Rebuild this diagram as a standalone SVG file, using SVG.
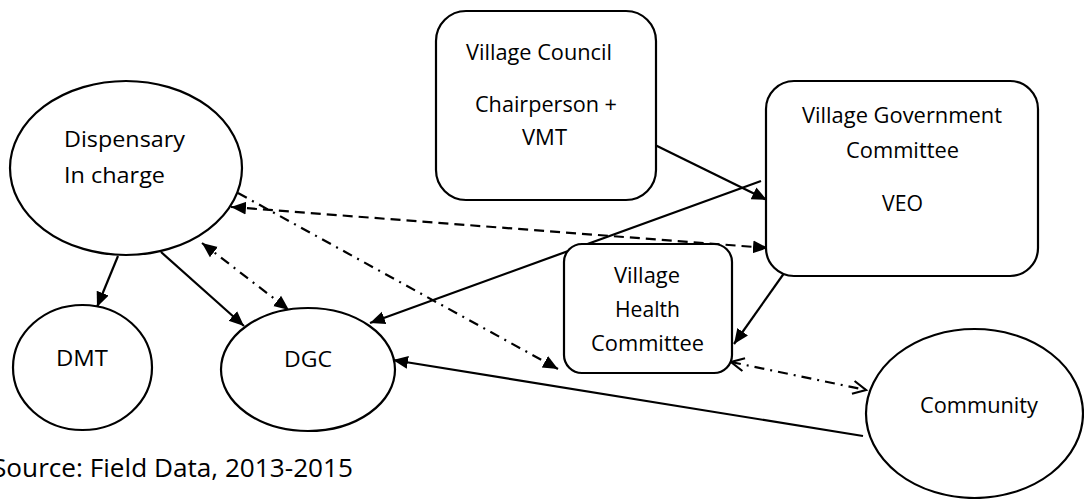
<svg xmlns="http://www.w3.org/2000/svg" width="1084" height="499" viewBox="0 0 1084 499">
<style>
.shape{fill:#fff;stroke:#000;stroke-width:2.2}
.t{font-family:"Open Sans","Liberation Sans",sans-serif;font-size:21px;fill:#000}
.src{font-family:"Open Sans","Liberation Sans",sans-serif;font-size:25px;fill:#000}
.c{fill:none;stroke:#000;stroke-width:2.2}
.dash{stroke-dasharray:10 6}
.dd{stroke-dasharray:10 6 2 6}
</style>
<defs>
<marker id="af" markerUnits="userSpaceOnUse" markerWidth="18" markerHeight="16" refX="15" refY="6.5" orient="auto-start-reverse" viewBox="0 0 18 13">
<path d="M0,0 L15,6.5 L0,13 z" fill="#000"/>
</marker>
<marker id="ao" markerUnits="userSpaceOnUse" markerWidth="18" markerHeight="16" refX="14" refY="7" orient="auto-start-reverse" viewBox="0 0 18 14">
<path d="M1,0.5 L14,7 L1,13.5" fill="none" stroke="#000" stroke-width="2.2"/>
</marker>
</defs>
<rect width="1084" height="499" fill="#fff"/>
<g id="connectors">
<line class="c" x1="118" y1="256" x2="97" y2="307" marker-end="url(#af)"/>
<line class="c" x1="161" y1="252" x2="244" y2="326" marker-end="url(#af)"/>
<line class="c dd" x1="202" y1="243" x2="289" y2="310" marker-start="url(#af)" marker-end="url(#af)"/>
<line class="c dash" x1="231" y1="207" x2="768" y2="248" marker-start="url(#af)" marker-end="url(#af)"/>
<line class="c dd" x1="238" y1="193" x2="558" y2="369" marker-end="url(#af)"/>
<line class="c" x1="653" y1="144" x2="767" y2="200" marker-end="url(#af)"/>
<line class="c" x1="761" y1="181" x2="370" y2="323" marker-end="url(#af)"/>
<line class="c" x1="792" y1="262" x2="734" y2="344" marker-end="url(#af)"/>
<line class="c dd" x1="731" y1="362" x2="866" y2="390" marker-start="url(#ao)" marker-end="url(#ao)"/>
<line class="c" x1="863" y1="436" x2="393" y2="360" marker-end="url(#af)"/>
</g>
<g id="dispensary">
<ellipse class="shape" cx="126" cy="168" rx="116" ry="87"/>
<text class="t" x="64" y="147" textLength="121" lengthAdjust="spacingAndGlyphs">Dispensary</text>
<text class="t" x="64" y="183" textLength="101" lengthAdjust="spacingAndGlyphs">In charge</text>
</g>
<g id="dmt">
<ellipse class="shape" cx="82.5" cy="367.5" rx="69.5" ry="62.5"/>
<text class="t" x="56" y="366" textLength="52" lengthAdjust="spacingAndGlyphs">DMT</text>
</g>
<g id="dgc">
<ellipse class="shape" cx="308" cy="369.5" rx="87" ry="61.5"/>
<text class="t" x="284" y="367" textLength="48" lengthAdjust="spacingAndGlyphs">DGC</text>
</g>
<g id="village-council">
<rect class="shape" x="436" y="11" width="220" height="189" rx="30"/>
<text class="t" x="466" y="60" textLength="146" lengthAdjust="spacingAndGlyphs">Village Council</text>
<text class="t" x="475" y="112" textLength="142" lengthAdjust="spacingAndGlyphs">Chairperson +</text>
<text class="t" x="522" y="145" textLength="45" lengthAdjust="spacingAndGlyphs">VMT</text>
</g>
<g id="village-government">
<rect class="shape" x="766" y="81" width="272" height="195" rx="28"/>
<text class="t" x="802" y="123" textLength="200" lengthAdjust="spacingAndGlyphs">Village Government</text>
<text class="t" x="846" y="158" textLength="113" lengthAdjust="spacingAndGlyphs">Committee</text>
<text class="t" x="882" y="211" textLength="41" lengthAdjust="spacingAndGlyphs">VEO</text>
</g>
<g id="village-health">
<rect class="shape" x="564" y="244" width="168" height="129" rx="18"/>
<text class="t" x="614" y="283" textLength="66" lengthAdjust="spacingAndGlyphs">Village</text>
<text class="t" x="615" y="317" textLength="65" lengthAdjust="spacingAndGlyphs">Health</text>
<text class="t" x="591" y="351" textLength="113" lengthAdjust="spacingAndGlyphs">Committee</text>
</g>
<g id="community">
<ellipse class="shape" cx="974.5" cy="413.5" rx="108.5" ry="84.5"/>
<text class="t" x="920" y="413" textLength="118" lengthAdjust="spacingAndGlyphs">Community</text>
</g>
<text class="src" x="-8" y="477" textLength="361" lengthAdjust="spacingAndGlyphs">Source: Field Data, 2013-2015</text>
</svg>
